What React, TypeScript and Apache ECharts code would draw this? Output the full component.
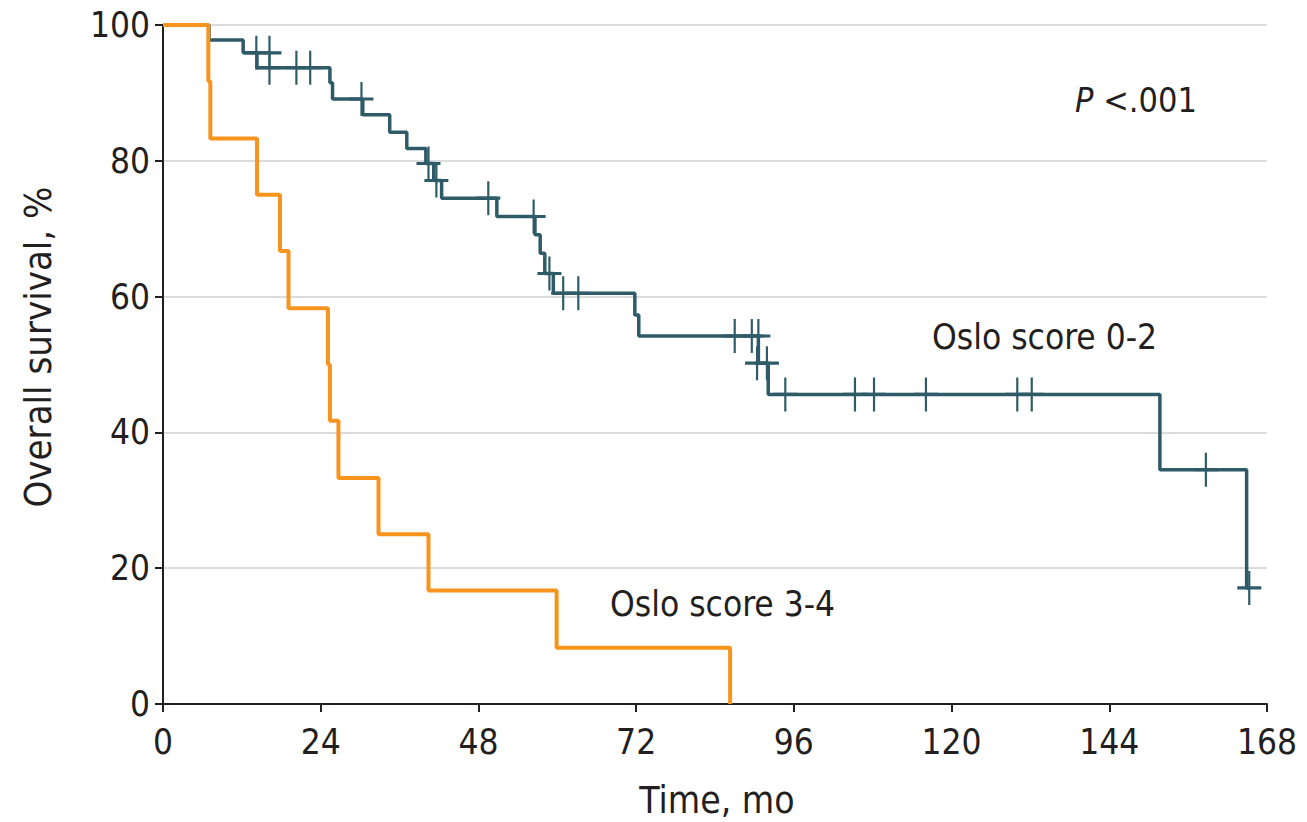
import React, { useEffect, useRef } from "react";
import * as echarts from "echarts";

// Axis ticks
const xTicks = [0, 24, 48, 72, 96, 120, 144, 168];
const yTicks = [0, 20, 40, 60, 80, 100];

// Oslo score 3-4 (Kaplan-Meier steps: [month, survival %])
const oslo34 = [
  [0, 100], [6.9, 91.7], [7.2, 83.3], [14.3, 75], [17.8, 66.7], [19.1, 58.3],
  [25.1, 50], [25.4, 41.7], [26.7, 33.3], [32.8, 25], [40.4, 16.7], [59.9, 8.3], [86.3, 0],
];

// Oslo score 0-2 (Kaplan-Meier steps: [month, survival %])
const oslo02 = [
  [0, 100], [7.0, 97.8], [12.2, 95.9], [14.3, 93.7], [25.4, 91.5], [25.8, 89.1],
  [30.4, 86.8], [34.5, 84.2], [37.1, 81.8], [40.0, 79.6], [41.2, 77.1], [42.4, 74.5],
  [50.8, 71.8], [56.6, 69.1], [57.4, 66.4], [58.1, 63.4], [59.4, 60.5], [71.8, 57.3],
  [72.4, 54.2], [90.6, 50.2], [92.1, 45.6], [151.7, 34.5], [164.9, 17.1], [165.3, 17.1],
];

// Censored observations for Oslo score 0-2
const oslo02Censored = [
  [14.2, 95.9], [16.2, 95.9], [16.2, 93.7], [20.3, 93.7], [22.4, 93.7], [30.2, 89.1],
  [40.4, 79.6], [41.6, 77.1], [49.5, 74.5], [56.4, 71.8], [58.8, 63.4], [60.9, 60.5],
  [63.2, 60.5], [87.0, 54.2], [89.6, 54.2], [90.6, 54.2], [90.4, 50.2], [91.9, 50.2],
  [94.7, 45.6], [105.3, 45.6], [108.2, 45.6], [116.1, 45.6], [130.0, 45.6], [132.2, 45.6],
  [158.7, 34.5], [165.3, 17.1],
];

const TEAL = "#2f5b69";
const ORANGE = "#f7941e";
const TEXT = "#231f20";
const FONT = "'DejaVu Sans Condensed', 'Liberation Sans Narrow', sans-serif";

export default function App() {
  const ref = useRef<HTMLDivElement>(null);
  useEffect(() => {
    const chart = echarts.init(ref.current!, null, { renderer: "svg" });
    chart.setOption({
      animation: false,
      grid: { left: 163, right: 40, top: 25, bottom: 118, containLabel: false },
      xAxis: {
        type: "value",
        min: xTicks[0],
        max: xTicks[xTicks.length - 1],
        interval: xTicks[1] - xTicks[0],
        axisLine: { show: true, lineStyle: { color: TEXT, width: 2 } },
        axisTick: { show: true, length: 8, lineStyle: { color: TEXT, width: 2 } },
        axisLabel: { color: TEXT, fontSize: 35, fontFamily: FONT, margin: 20 },
        splitLine: { show: false },
      },
      yAxis: {
        type: "value",
        min: yTicks[0],
        max: yTicks[yTicks.length - 1],
        interval: yTicks[1] - yTicks[0],
        axisLine: { show: true, lineStyle: { color: TEXT, width: 2 } },
        axisTick: { show: true, length: 8, lineStyle: { color: TEXT, width: 2 } },
        axisLabel: { color: TEXT, fontSize: 35, fontFamily: FONT, margin: 13 },
        splitLine: { show: true, lineStyle: { color: "#dcdcdc", width: 2 } },
      },
      series: [
        {
          type: "line",
          step: "end",
          data: oslo02,
          showSymbol: false,
          lineStyle: { color: TEAL, width: 3.5 },
          z: 2,
        },
        {
          type: "scatter",
          data: oslo02Censored,
          symbol: "path://M12,0 L12,34 M0,17 L24,17",
          symbolSize: [24, 34],
          itemStyle: { color: "none", borderColor: TEAL, borderWidth: 2.6, opacity: 1 },
          z: 3,
        },
        {
          type: "line",
          step: "end",
          data: oslo34,
          showSymbol: false,
          lineStyle: { color: ORANGE, width: 4 },
          z: 4,
        },
      ],
      graphic: [
        {
          type: "text",
          x: 717,
          y: 800,
          style: { text: "Time, mo", fill: TEXT, font: `37px ${FONT}`, align: "center", verticalAlign: "middle" },
        },
        {
          type: "text",
          x: 38,
          y: 347,
          rotation: Math.PI / 2,
          style: { text: "Overall survival, %", fill: TEXT, font: `38px ${FONT}`, align: "center", verticalAlign: "middle" },
        },
        {
          type: "text",
          x: 1075,
          y: 100,
          style: {
            text: "{i|P} <.001",
            fill: TEXT,
            font: `34px ${FONT}`,
            verticalAlign: "middle",
            rich: { i: { fontStyle: "italic", fontSize: 34, fontFamily: FONT, fill: TEXT } },
          },
        },
        {
          type: "text",
          x: 932,
          y: 337,
          style: { text: "Oslo score 0-2", fill: TEXT, font: `35px ${FONT}`, verticalAlign: "middle" },
        },
        {
          type: "text",
          x: 610,
          y: 604,
          style: { text: "Oslo score 3-4", fill: TEXT, font: `35px ${FONT}`, verticalAlign: "middle" },
        },
      ],
    });
    return () => chart.dispose();
  }, []);
  return (
    <div
      ref={ref}
      style={{ position: "absolute", left: 0, top: 0, width: 1307, height: 822, background: "#fff" }}
    />
  );
}
